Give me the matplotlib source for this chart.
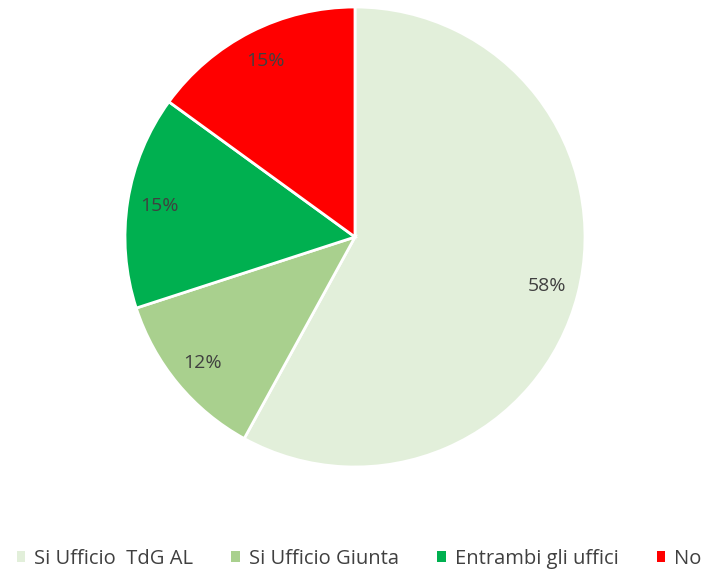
import matplotlib.pyplot as plt
from matplotlib.patches import Patch

labels = ['Si Ufficio  TdG AL', 'Si Ufficio Giunta', 'Entrambi gli uffici', 'No']
values = [58, 12, 15, 15]
colors = ['#E2EFDA', '#A9D08E', '#00B050', '#FF0000']

plt.rcParams['font.family'] = ['Open Sans', 'DejaVu Sans']

fig = plt.figure(figsize=(7.11, 5.73), dpi=100)
ax = fig.add_axes([125 / 711, 106 / 573, 460 / 711, 460 / 573])

wedges, texts, autotexts = ax.pie(
    values, colors=colors, startangle=90, counterclock=False,
    autopct='%1.0f%%', pctdistance=0.86,
    wedgeprops=dict(edgecolor='white', linewidth=2),
    textprops=dict(color='#404040', fontsize=14))
ax.set_xlim(-1, 1)
ax.set_ylim(-1, 1)
ax.set_aspect('equal')

handles = [Patch(facecolor=c, edgecolor='none') for c in colors]
fig.legend(handles, labels, loc='lower center', bbox_to_anchor=(0.505, -0.024),
           ncol=4, frameon=False, fontsize=14.5, handlelength=0.42, handleheight=0.42,
           handletextpad=0.45, columnspacing=1.9, labelcolor='#404040')

fig.savefig('out.png', dpi=100)
